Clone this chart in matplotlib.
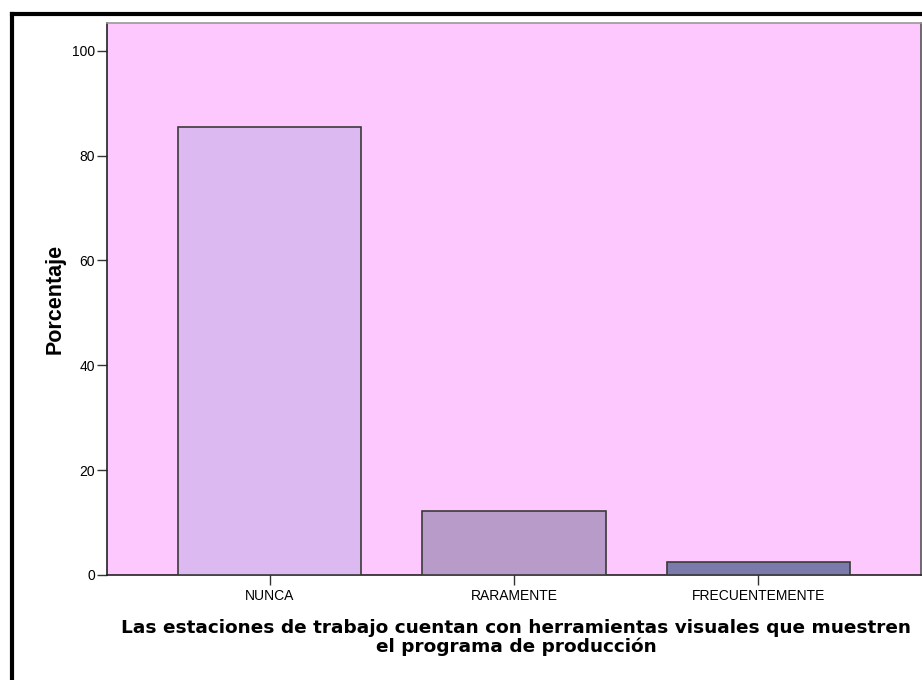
import matplotlib.pyplot as plt
from matplotlib.lines import Line2D

categorias = ["NUNCA", "RARAMENTE", "FRECUENTEMENTE"]
porcentajes = [85.4, 12.2, 2.4]
colores = ["#DDB9F1", "#B89BC8", "#7A7BAA"]
yticks = [0, 20, 40, 60, 80, 100]

fig = plt.figure(figsize=(9.22, 6.8), dpi=100)
ax = fig.add_axes([107 / 922, 105 / 680, 814 / 922, 552 / 680])
ax.set_facecolor("#FDC8FD")

x = list(range(len(categorias)))
ax.bar(x, porcentajes, width=0.75, color=colores, edgecolor="#3a3a3a",
       linewidth=1.2, zorder=3)

ax.set_xlim(-0.667, 2.667)
ax.set_ylim(0, 105.3)
ax.set_xticks(x)
ax.set_xticklabels(categorias, fontsize=10, family="Liberation Sans")
ax.set_yticks(yticks)
ax.set_yticklabels([str(v) for v in yticks], fontsize=10, family="Liberation Sans")
ax.tick_params(axis="both", direction="out", length=7, width=1, color="#333333")
ax.tick_params(axis="x", pad=3)
ax.tick_params(axis="y", pad=1.5)

ax.spines["left"].set_color("#222222")
ax.spines["bottom"].set_color("#222222")
ax.spines["top"].set_color("#999999")
ax.spines["right"].set_color("#555555")
for s in ax.spines.values():
    s.set_linewidth(1.2)

ax.set_ylabel("Porcentaje", fontsize=15.5, fontweight="bold",
              family="Liberation Sans", va="center")
ax.yaxis.set_label_coords(-52 / 814, 0.5)
ax.set_xlabel("Las estaciones de trabajo cuentan con herramientas visuales que muestren\nel programa de producción",
              fontsize=13.3, fontweight="bold", family="DejaVu Sans",
              linespacing=1.0, va="top")
ax.xaxis.set_label_coords(0.503, -44 / 552)

# marco exterior
fig.add_artist(Line2D([12 / 922, 12 / 922], [0, 1 - 14 / 680],
                      transform=fig.transFigure, color="black", lw=3))
fig.add_artist(Line2D([12 / 922, 1], [1 - 14 / 680, 1 - 14 / 680],
                      transform=fig.transFigure, color="black", lw=3))

fig.savefig("out.png", dpi=100)
